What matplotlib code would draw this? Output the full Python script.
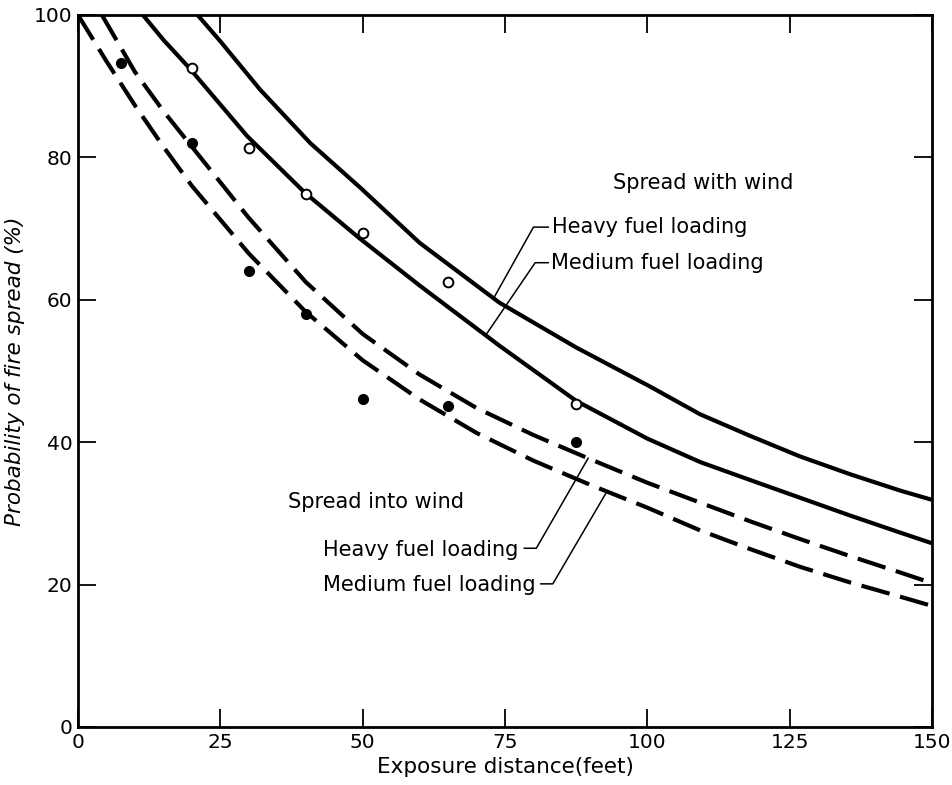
import numpy as np
import matplotlib.pyplot as plt

# curves: exposure distance (ft) vs probability of spread (%)
wind_heavy_x = [21, 25, 32, 40.8, 49.5, 60, 74, 87.5, 100.5, 109.3, 118, 126.8, 135.6, 144.4, 150]
wind_heavy_y = [100, 96.3, 89.5, 82, 75.8, 68.0, 59.6, 53.3, 47.8, 43.9, 40.9, 38.0, 35.5, 33.2, 31.9]

wind_medium_x = [11.4, 15, 19.5, 29.7, 39.9, 49.5, 60, 74.1, 87.5, 100, 109.3, 118, 126.8, 135.6, 144.4, 150]
wind_medium_y = [100, 96.5, 92.6, 83.0, 75, 68.6, 62, 53.5, 45.8, 40.5, 37.2, 34.7, 32.2, 29.7, 27.3, 25.8]

into_heavy_x = [4.2, 10, 15, 20, 30, 40, 50, 60, 70, 80, 90, 100, 109.3, 118, 126.8, 135.6, 144.4, 150]
into_heavy_y = [100, 92, 86.5, 81.5, 71.5, 62.5, 55.2, 49.5, 44.8, 41.0, 37.6, 34.3, 31.5, 28.9, 26.4, 24, 21.7, 20.2]

into_medium_x = [0, 5, 10, 15, 20, 30, 40, 50, 60, 70, 80, 90, 100, 109.3, 118, 126.8, 135.6, 144.4, 150]
into_medium_y = [100, 93.5, 87.3, 81.5, 76, 66.5, 58.3, 51.5, 46, 41.3, 37.4, 34, 30.8, 27.6, 25, 22.5, 20.3, 18.3, 17.0]

# observed points
open_x = [20, 30, 40, 50, 65, 87.5]
open_y = [92.5, 81.3, 74.8, 69.4, 62.5, 45.4]
filled_x = [7.5, 20, 30, 40, 50, 65, 87.5]
filled_y = [93.3, 82, 64, 58, 46.1, 45.1, 40.0]

fs = 15
plt.rcParams['font.family'] = 'DejaVu Sans'

fig, ax = plt.subplots(figsize=(9.53, 7.85), dpi=100)
fig.subplots_adjust(left=0.0818, right=0.978, bottom=0.0739, top=0.981)

lw = 3.0
ax.plot(wind_heavy_x, wind_heavy_y, color='black', lw=lw, solid_capstyle='butt')
ax.plot(wind_medium_x, wind_medium_y, color='black', lw=lw, solid_capstyle='butt')
ax.plot(into_heavy_x, into_heavy_y, color='black', lw=lw, dashes=(7, 2.6), dash_capstyle='butt')
ax.plot(into_medium_x, into_medium_y, color='black', lw=lw, dashes=(7, 2.6), dash_capstyle='butt')

ax.plot(open_x, open_y, 'o', ms=7, mfc='white', mec='black', mew=1.4, zorder=5)
ax.plot(filled_x, filled_y, 'o', ms=7, color='black', zorder=5)

# labels with leader lines
def leader(x_curve, y_curve, xc, corner, stub_end):
    yc = np.interp(xc, x_curve, y_curve)
    ax.plot([xc, corner[0], stub_end], [yc, corner[1], corner[1]], color='black', lw=1.1)

ax.text(94, 76.4, 'Spread with wind', fontsize=fs, va='center', ha='left')
ax.text(83.3, 70.2, 'Heavy fuel loading', fontsize=fs, va='center', ha='left')
leader(wind_heavy_x, wind_heavy_y, 73.0, (80.0, 70.2), 82.6)
ax.text(83.0, 65.2, 'Medium fuel loading', fontsize=fs, va='center', ha='left')
leader(wind_medium_x, wind_medium_y, 71.6, (80.3, 65.2), 82.6)

ax.text(36.9, 31.6, 'Spread into wind', fontsize=fs, va='center', ha='left')
ax.text(77.4, 24.8, 'Heavy fuel loading', fontsize=fs, va='center', ha='right')
leader(into_heavy_x, into_heavy_y, 89.6, (80.5, 25.1), 78.4)
ax.text(80.3, 19.9, 'Medium fuel loading', fontsize=fs, va='center', ha='right')
leader(into_medium_x, into_medium_y, 92.9, (83.4, 20.1), 81.3)

ax.set_xlim(0, 150)
ax.set_ylim(0, 100)
ax.set_xticks([0, 25, 50, 75, 100, 125, 150])
ax.set_yticks([0, 20, 40, 60, 80, 100])
ax.tick_params(direction='in', length=13, width=1.3, top=True, right=True,
               labelsize=14.5, pad=4)
for s in ax.spines.values():
    s.set_linewidth(2.0)

ax.set_xlabel('Exposure distance(feet)', fontsize=15.5, labelpad=4)
ax.set_ylabel('Probability of fire spread (%)', fontsize=15.5, style='italic', labelpad=6)

fig.savefig('out.png', dpi=100)
